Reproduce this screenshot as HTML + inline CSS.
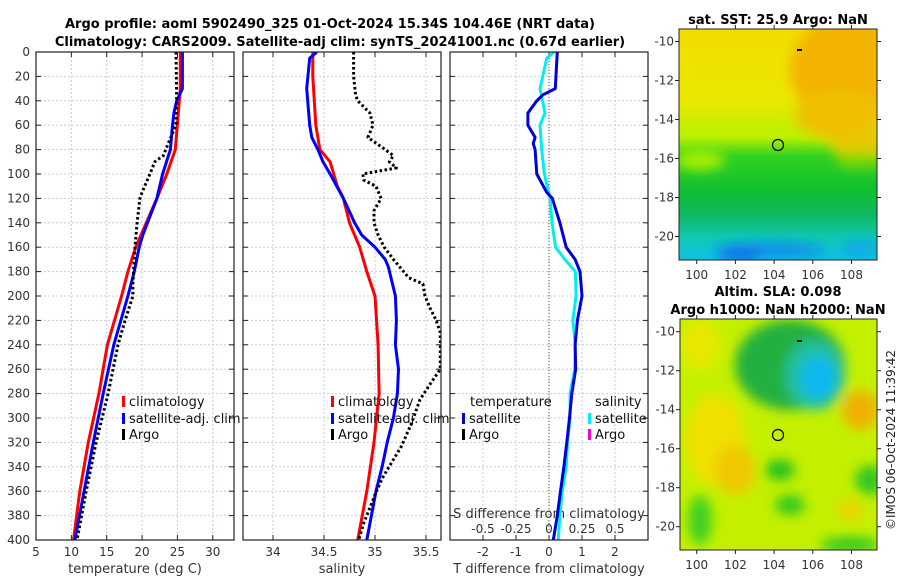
<!DOCTYPE html>
<html><head><meta charset="utf-8"><style>
body{margin:0;background:#fff;width:900px;height:580px;overflow:hidden;font-family:"Liberation Sans","DejaVu Sans",sans-serif}
svg text{font-family:"DejaVu Sans","Liberation Sans",sans-serif}
</style></head><body>
<svg id="chart" width="900" height="580" xmlns="http://www.w3.org/2000/svg">
<defs>
<filter id="blur6"><feGaussianBlur stdDeviation="6"/></filter>
<filter id="blur3"><feGaussianBlur stdDeviation="3"/></filter>
<clipPath id="m1clip"><rect x="679" y="29" width="198" height="231"/></clipPath>
<clipPath id="m2clip"><rect x="680" y="319" width="197" height="231"/></clipPath>
<clipPath id="p1clip"><rect x="36" y="52" width="198" height="488"/></clipPath>
<clipPath id="p2clip"><rect x="243" y="52" width="198" height="488"/></clipPath>
<clipPath id="p3clip"><rect x="450" y="52" width="198" height="488"/></clipPath>
<linearGradient id="sstg" x1="0" y1="0" x2="0" y2="1">
<stop offset="0" stop-color="#f2dc00"/><stop offset="0.3" stop-color="#ece800"/>
<stop offset="0.47" stop-color="#b8f000"/><stop offset="0.55" stop-color="#30d020"/>
<stop offset="0.7" stop-color="#10c030"/><stop offset="0.8" stop-color="#10b860"/>
<stop offset="0.9" stop-color="#10c8b0"/><stop offset="1" stop-color="#10c0e8"/>
</linearGradient>
</defs>
<text x="330" y="28" text-anchor="middle" font-size="13" font-weight="bold">Argo profile: aoml 5902490_325 01-Oct-2024 15.34S 104.46E (NRT data)</text>
<text x="340" y="46" text-anchor="middle" font-size="13" font-weight="bold">Climatology: CARS2009. Satellite-adj clim: synTS_20241001.nc (0.67d earlier)</text>
<g id="panels"></g>

<!-- Map 1 -->
<g>
<text x="778" y="24" text-anchor="middle" font-size="13" font-weight="bold">sat. SST: 25.9 Argo: NaN</text>
<g clip-path="url(#m1clip)">
<rect x="679" y="29" width="198" height="231" fill="url(#sstg)"/>
<g filter="url(#blur6)">
<ellipse cx="850" cy="70" rx="60" ry="55" fill="#f2b400"/>
<ellipse cx="840" cy="115" rx="45" ry="25" fill="#f0c000"/>
<ellipse cx="860" cy="145" rx="30" ry="12" fill="#e8c800"/>
<ellipse cx="700" cy="160" rx="25" ry="10" fill="#a8f000"/>
<ellipse cx="860" cy="160" rx="25" ry="8" fill="#80d800"/>
<ellipse cx="770" cy="250" rx="55" ry="8" fill="#1090e8"/>
<ellipse cx="740" cy="255" rx="22" ry="7" fill="#1070e8"/>
<ellipse cx="860" cy="248" rx="18" ry="6" fill="#10a0f0"/>
</g>
</g>
<rect x="679" y="29" width="198" height="231" fill="none" stroke="#222" stroke-width="1"/>
<circle cx="778" cy="145" r="5.5" fill="none" stroke="#000" stroke-width="1.2"/>
<rect x="797" y="49" width="5" height="2" fill="#000"/>
</g>

<!-- Map 2 -->
<g>
<text x="778" y="296" text-anchor="middle" font-size="13" font-weight="bold">Altim. SLA: 0.098</text>
<text x="778" y="314" text-anchor="middle" font-size="13" font-weight="bold">Argo h1000: NaN h2000: NaN</text>
<g clip-path="url(#m2clip)">
<rect x="680" y="319" width="197" height="231" fill="#c4f000"/>
<g filter="url(#blur6)">
<ellipse cx="715" cy="440" rx="30" ry="45" fill="#f0e000"/>
<ellipse cx="735" cy="470" rx="20" ry="25" fill="#f0c800"/>
<ellipse cx="700" cy="345" rx="20" ry="25" fill="#e8e800"/>
<ellipse cx="790" cy="365" rx="55" ry="45" fill="#20b040"/>
<ellipse cx="815" cy="375" rx="30" ry="35" fill="#20c0a0"/>
<ellipse cx="818" cy="378" rx="18" ry="22" fill="#10b8f0"/>
<ellipse cx="860" cy="410" rx="18" ry="20" fill="#f0b000"/>
<ellipse cx="780" cy="470" rx="15" ry="10" fill="#20c020"/>
<ellipse cx="790" cy="505" rx="15" ry="10" fill="#30c820"/>
<ellipse cx="870" cy="480" rx="15" ry="15" fill="#30c820"/>
<ellipse cx="700" cy="520" rx="12" ry="25" fill="#40d020"/>
<ellipse cx="850" cy="545" rx="30" ry="8" fill="#30c820"/>
<ellipse cx="850" cy="510" rx="12" ry="10" fill="#f0d000"/>
</g>
</g>
<rect x="680" y="319" width="197" height="231" fill="none" stroke="#222" stroke-width="1"/>
<circle cx="778" cy="435" r="5.5" fill="none" stroke="#000" stroke-width="1.2"/>
<rect x="797" y="340" width="5" height="2" fill="#000"/>
</g>
<text transform="translate(895,440) rotate(-90)" text-anchor="middle" font-size="12" fill="#222">©IMOS 06-Oct-2024 11:39:42</text>
</svg>
<script>
// ---- data ----
const depthTicks = [0,20,40,60,80,100,120,140,160,180,200,220,240,260,280,300,320,340,360,380,400];
const tempTicks = [5,10,15,20,25,30];
const salTicks = [34,34.5,35,35.5];
const salTickLabels = ["34","34.5","35","35.5"];
const tdiffTicks = [-2,-1,0,1,2];
const sdiffTickLabels = ["-0.5","-0.25","0","0.25","0.5"];
const sdiffTicks = [-0.5,-0.25,0,0.25,0.5];

const tClimDepth = [0,30,80,100,120,160,180,200,240,280,320,360,400];
const tClimVal   = [25.4,25.4,24.7,23.5,22.1,19.1,18.0,17.1,15.1,13.9,12.4,11.2,10.3];
const tSatDepth  = [0,30,40,50,60,80,100,120,150,160,180,200,240,280,320,360,400];
const tSatVal    = [25.7,25.7,24.9,24.5,24.3,24.0,22.9,22.1,20.1,19.6,18.9,18.0,16.0,14.5,13.1,11.8,10.5];
const tArgoDepth = [0,40,60,75,85,90,100,115,120,140,160,190,200,220,240,280,320,360,400];
const tArgoVal   = [24.8,24.9,24.8,23.7,23.0,21.8,21.1,20.0,19.7,19.3,19.0,18.7,18.7,17.6,16.6,15.2,13.5,12.1,10.8];

const sClimDepth = [0,20,60,80,90,110,120,140,160,180,200,240,280,320,360,400];
const sClimVal   = [34.39,34.39,34.42,34.46,34.56,34.63,34.69,34.75,34.85,34.92,35.0,35.03,35.04,34.99,34.92,34.83];
const sSatDepth  = [0,5,30,40,60,70,80,90,100,120,140,150,160,170,176,200,220,240,260,280,300,320,340,360,400];
const sSatVal    = [34.43,34.36,34.33,34.34,34.36,34.38,34.44,34.49,34.56,34.69,34.80,34.87,35.0,35.1,35.13,35.2,35.21,35.2,35.23,35.22,35.18,35.12,35.07,35.01,34.92];
const sArgoDepth = [0,20,35,40,50,60,70,80,85,90,95,100,105,110,120,130,140,150,160,170,180,185,190,200,210,220,230,260,271,285,304,323,348,359,386,400];
const sArgoVal   = [34.79,34.79,34.81,34.83,34.95,34.98,34.93,35.10,35.18,35.14,35.21,34.88,34.89,35.01,35.06,34.99,34.99,35.03,35.09,35.18,35.28,35.33,35.47,35.49,35.54,35.60,35.64,35.64,35.55,35.44,35.36,35.26,35.08,35.02,34.89,34.84];

const dtDepth = [0,10,30,35,40,50,60,70,75,80,100,115,120,140,160,170,180,200,220,240,260,280,300,320,340,360,380,400];
const dtVal   = [0.25,0.23,0.19,-0.18,-0.37,-0.64,-0.64,-0.42,-0.48,-0.42,-0.37,-0.07,0.1,0.33,0.52,0.79,0.94,1.0,0.86,0.79,0.81,0.69,0.62,0.54,0.45,0.35,0.25,0.13];
const dsDepth = [0,5,30,50,60,80,100,120,140,160,170,180,200,220,240,260,280,300,320,340,360,380,400];
const dsVal   = [0.04,-0.017,-0.068,-0.03,-0.068,-0.055,-0.035,0.008,0.023,0.05,0.12,0.2,0.205,0.18,0.2,0.195,0.16,0.16,0.14,0.13,0.1,0.083,0.07];

// ---- axes ----
const NS='http://www.w3.org/2000/svg';
const Y0=52, Y1=540;
const yD = d => Y0 + d/400*(Y1-Y0);
const panels = [
 {x0:36, x1:234, min:5, max:33, clip:'p1clip', name:'temperature-panel'},
 {x0:243, x1:441, min:33.706, max:35.647, clip:'p2clip', name:'salinity-panel'},
 {x0:450, x1:648, min:-3, max:3, clip:'p3clip', name:'difference-panel'}
];
const xf = (p,v) => p.x0 + (v-p.min)/(p.max-p.min)*(p.x1-p.x0);
const xs = v => 549 + v*132; // S diff scale on panel 3
const root = document.getElementById('panels');
function el(tag, attrs, parent){const e=document.createElementNS(NS,tag);for(const k in attrs)e.setAttribute(k,attrs[k]);(parent||root).appendChild(e);return e;}
function txt(x,y,s,size,anchor,parent){const t=el('text',{x:x,y:y,'font-size':size,'text-anchor':anchor,fill:'#333'},parent);t.textContent=s;return t;}

const xTicksList=[tempTicks,salTicks,tdiffTicks];
const xLabels=[tempTicks.map(String),salTickLabels,tdiffTicks.map(String)];
const xTitles=['temperature (deg C)','salinity','T difference from climatology'];
panels.forEach((p,i)=>{
  const g=el('g',{});
  
  
  depthTicks.forEach(d=>{ el('line',{x1:p.x0,x2:p.x1,y1:yD(d),y2:yD(d),stroke:'#c4cce8','stroke-width':1,'stroke-dasharray':'2 2'},g); });
  xTicksList[i].forEach(v=>{ const x=xf(p,v); el('line',{x1:x,x2:x,y1:Y0,y2:Y1,stroke:'#c8c8e8','stroke-width':1,'stroke-dasharray':'2 2'},g); });
  depthTicks.forEach(d=>{ el('line',{x1:p.x0,x2:p.x0+5,y1:yD(d),y2:yD(d),stroke:'#222'},g); el('line',{x1:p.x1-5,x2:p.x1,y1:yD(d),y2:yD(d),stroke:'#222'},g); });
  xTicksList[i].forEach((v,j)=>{ const x=xf(p,v); el('line',{x1:x,x2:x,y1:Y1,y2:Y1-5,stroke:'#222'},g); el('line',{x1:x,x2:x,y1:Y0,y2:Y0+5,stroke:'#222'},g);
    const t=txt(x,556,xLabels[i][j],12,'middle',g);
      });
  const tt=txt((p.x0+p.x1)/2,573,xTitles[i],13,'middle',g);
  
  
  if(i===0){ depthTicks.forEach(d=>{ const t=txt(30,yD(d)+4,String(d),12,'end',g);
      }); }
  p.g=g;
});
el('line',{x1:549,x2:549,y1:Y0,y2:Y1,stroke:'#555533','stroke-width':1,'stroke-dasharray':'1 2'},panels[2].g);
sdiffTicks.forEach((v,j)=>{ const t=txt(xs(v),533,sdiffTickLabels[j],12,'middle',panels[2].g);
    });
const st=txt(549,518,'S difference from climatology',13,'middle',panels[2].g);



function series(p, depths, vals, color, dotted, name, xfun){
  const d=depths.map((dd,k)=>(k?'L':'M')+(xfun?xfun(vals[k]):xf(p,vals[k])).toFixed(1)+','+yD(dd).toFixed(1)).join(' ');
  const a={d:d,fill:'none',stroke:color,'stroke-width':3,'stroke-linejoin':'round','clip-path':'url(#'+p.clip+')'};
  if(dotted){a['stroke-dasharray']='2.5 2.5';a['stroke-width']=3;}
  const e=el('path',a,p.g);
  
  
}
series(panels[0],tClimDepth,tClimVal,'#ff0000',false,'temp-climatology-line');
series(panels[0],tSatDepth,tSatVal,'#0000ff',false,'temp-satellite-line');
series(panels[0],tArgoDepth,tArgoVal,'#000',true,'temp-argo-line');
series(panels[1],sClimDepth,sClimVal,'#ff0000',false,'sal-climatology-line');
series(panels[1],sSatDepth,sSatVal,'#0000ff',false,'sal-satellite-line');
series(panels[1],sArgoDepth,sArgoVal,'#000',true,'sal-argo-line');
series(panels[2],dsDepth,dsVal,'#00eeee',false,'s-diff-satellite-line',xs);
series(panels[2],dtDepth,dtVal,'#0000dd',false,'t-diff-satellite-line');

panels.forEach(p=>{ el('rect',{x:p.x0,y:Y0,width:p.x1-p.x0,height:Y1-Y0,fill:'none',stroke:'#222','stroke-width':1.2},p.g); });

function legend(g,x,y,color,label){
  el('rect',{x:x,y:y-10,width:3,height:11,fill:color},g);
  const t=txt(x+7,y,label,13,'start',g); t.setAttribute('fill','#111');
  
  
}
legend(panels[0].g,122,406,'#ff0000','climatology');
legend(panels[0].g,122,423,'#0000ff','satellite-adj. clim');
legend(panels[0].g,122,439,'#000','Argo');
legend(panels[1].g,331,406,'#ff0000','climatology');
legend(panels[1].g,331,423,'#0000ff','satellite-adj. clim');
legend(panels[1].g,331,439,'#000','Argo');
const l1=txt(470,406,'temperature',13,'start',panels[2].g); l1.setAttribute('fill','#111');
const l2=txt(595,406,'salinity',13,'start',panels[2].g); l2.setAttribute('fill','#111');
legend(panels[2].g,462,423,'#0000dd','satellite');
legend(panels[2].g,462,439,'#000','Argo');
legend(panels[2].g,588,423,'#00eeee','satellite');
legend(panels[2].g,588,439,'#ff00cc','Argo');

function mapAxes(x0,x1,y0,y1,latY,labY,name){
  const g=el('g',{},document.getElementById('chart'));
  
  
  const lats=[-10,-12,-14,-16,-18,-20];
  lats.forEach((l,k)=>{ const y=latY+k*39; el('line',{x1:x0,x2:x0-4,y1:y,y2:y,stroke:'#222'},g); el('line',{x1:x1,x2:x1+4,y1:y,y2:y,stroke:'#222'},g); txt(x0-5,y+4,String(l),12,'end',g); });
  const lons=[100,102,104,106,108];
  lons.forEach((l,k)=>{ const x=696.7+k*38.7; el('line',{x1:x,x2:x,y1:y1,y2:y1+4,stroke:'#222'},g); el('line',{x1:x,x2:x,y1:y0,y2:y0-4,stroke:'#222'},g); txt(x,labY,String(l),12,'middle',g); });
}
mapAxes(679,877,29,260,41.5,279,'sst-map-axes');
mapAxes(680,877,319,550,331.7,569,'sla-map-axes');
</script>
</body></html>
